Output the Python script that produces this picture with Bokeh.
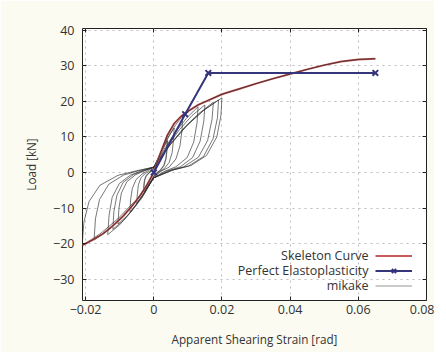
from bokeh.plotting import figure
from bokeh.models import (Range1d, LinearAxis, FixedTicker, Legend, LegendItem, Label)
from bokeh.embed import file_html
from bokeh.resources import INLINE

# ---------------- data ----------------
x_ticks = [-0.02, 0, 0.02, 0.04, 0.06, 0.08]
y_ticks = [-30, -20, -10, 0, 10, 20, 30, 40]

skeleton_x = [-0.021, -0.018, -0.015, -0.012, -0.009, -0.006, -0.004, -0.002, 0.0,
              0.002, 0.004, 0.006, 0.008, 0.010, 0.013, 0.016, 0.020, 0.025, 0.030,
              0.035, 0.040, 0.045, 0.050, 0.055, 0.060, 0.065]
skeleton_y = [-20.5, -19.0, -17.3, -15.0, -12.3, -9.0, -6.5, -3.5, 0.0,
              5.5, 10.5, 13.8, 15.8, 17.2, 19.0, 20.3, 22.0, 23.5, 25.0,
              26.4, 27.7, 29.0, 30.2, 31.2, 31.8, 32.0]

elasto_x = [0.0, 0.0092, 0.016, 0.065]
elasto_y = [0.0, 16.4, 28.0, 28.0]

# hysteresis loops ("mikake")
loopA_x = [0, 0.001, 0.002, 0.003, 0.004, 0.0039, 0.0036, 0.003, 0.002, 0.001, 0,
           -0.00075, -0.0015, -0.00225, -0.003, -0.0029, -0.0027, -0.00225, -0.0015, -0.00075, 0]
loopA_y = [1.0, 3.2, 5.4, 7.3, 9.0, 6.8, 4.0, 2.0, 0.7, 0.0, -1.0,
           -2.4, -3.6, -4.7, -5.5, -3.9, -2.2, -1.0, -0.2, 0.4, 1.0]

loopF_x = [0, 0.0015, 0.003, 0.0045, 0.006, 0.0058, 0.0054, 0.0045, 0.003, 0.0015, 0,
           -0.00125, -0.0025, -0.00375, -0.005, -0.0048, -0.0045, -0.0037, -0.0025, -0.0012, 0]
loopF_y = [1.2, 4.5, 7.6, 10.3, 12.5, 9.2, 5.6, 2.8, 1.0, 0.1, -1.2,
           -3.3, -5.6, -7.3, -8.5, -6.0, -3.4, -1.4, -0.3, 0.4, 1.2]

loopB_x = [0, 0.002, 0.004, 0.006, 0.0085, 0.0083, 0.0077, 0.0065, 0.0045, 0.002, 0,
           -0.0018, -0.0035, -0.0053, -0.007, -0.0068, -0.0063, -0.0052, -0.0035, -0.0018, 0]
loopB_y = [1.5, 5.5, 9.5, 12.8, 16.0, 12.0, 7.5, 3.8, 1.5, 0.3, -1.5,
           -4.3, -7.2, -9.4, -11.0, -7.8, -4.5, -2.0, -0.5, 0.5, 1.5]

loopC_x = [0, 0.003, 0.0065, 0.0098, 0.013, 0.0127, 0.0117, 0.0098, 0.0065, 0.0033, 0,
           -0.0026, -0.0053, -0.0079, -0.0105, -0.0102, -0.0095, -0.0079, -0.0053, -0.0026, 0]
loopC_y = [1.5, 6.5, 11.5, 15.5, 18.5, 14.0, 8.5, 4.2, 1.6, 0.4, -1.5,
           -5.5, -9.3, -12.3, -14.5, -10.0, -5.8, -2.6, -0.6, 0.5, 1.5]

loopG_x = [0, 0.0037, 0.0075, 0.0112, 0.015, 0.0147, 0.0136, 0.0114, 0.0078, 0.0038, 0,
           -0.003, -0.006, -0.009, -0.012, -0.0117, -0.0108, -0.009, -0.006, -0.003, 0]
loopG_y = [1.5, 7.0, 12.0, 16.0, 19.0, 14.5, 8.8, 4.2, 1.6, 0.4, -1.5,
           -6.0, -10.3, -13.6, -16.0, -11.0, -6.4, -2.8, -0.6, 0.5, 1.5]

loopD_x = [0, 0.0044, 0.0088, 0.0131, 0.0175, 0.0171, 0.0158, 0.0131, 0.0088, 0.0044, 0,
           -0.0034, -0.0068, -0.0101, -0.0135, -0.0131, -0.0122, -0.0101, -0.0068, -0.0034, 0]
loopD_y = [1.5, 7.5, 12.5, 16.5, 19.8, 15.0, 9.0, 4.3, 1.6, 0.4, -1.5,
           -6.5, -11.2, -14.8, -17.5, -12.0, -7.0, -3.1, -0.7, 0.5, 1.5]

loopH_x = [0, 0.0048, 0.0095, 0.0143, 0.019, 0.0187, 0.0174, 0.0146, 0.0102, 0.0052, 0,
           -0.0044, -0.0088, -0.0132, -0.0175, -0.0171, -0.0159, -0.0132, -0.0088, -0.0044, 0]
loopH_y = [1.5, 7.8, 13.0, 17.2, 20.4, 15.5, 9.5, 4.5, 1.8, 0.6, -1.5,
           -7.0, -12.2, -16.2, -19.0, -13.0, -7.6, -3.3, -0.7, 0.5, 1.5]

loopE_x = [0, 0.005, 0.010, 0.015, 0.020, 0.0197, 0.0185, 0.0155, 0.011, 0.006, 0,
           -0.005, -0.0105, -0.0158, -0.021, -0.0205, -0.019, -0.0158, -0.0105, -0.005, 0]
loopE_y = [1.5, 8.0, 13.5, 17.8, 21.0, 16.0, 10.0, 4.8, 2.0, 0.8, -1.5,
           -7.5, -13.0, -17.3, -20.5, -14.0, -8.2, -3.6, -0.8, 0.5, 1.5]

loops_x = [loopA_x, loopF_x, loopB_x, loopC_x, loopG_x, loopD_x, loopH_x, loopE_x]
loops_y = [loopA_y, loopF_y, loopB_y, loopC_y, loopG_y, loopD_y, loopH_y, loopE_y]

legend_labels = ["Skeleton Curve", "Perfect Elastoplasticity", "mikake"]

FONT = "Open Sans"

# ---------------- figure ----------------
p = figure(frame_width=344, frame_height=272,
           x_range=Range1d(-0.0209, 0.08), y_range=Range1d(-36, 40.5),
           output_backend="svg", toolbar_location=None,
           min_border_left=82, min_border_right=8, min_border_top=28, min_border_bottom=52)
p.background_fill_color = "white"
p.border_fill_color = "#fcfbf2"
p.outline_line_color = "#222222"
p.outline_line_width = 1

for ax in (p.xaxis[0], p.yaxis[0]):
    ax.axis_line_color = None
    ax.major_tick_in = 4
    ax.major_tick_out = 0
    ax.minor_tick_line_color = None
    ax.major_tick_line_color = "#222222"
    ax.major_label_text_font = FONT
    ax.major_label_text_font_size = "12.5px"
    ax.major_label_text_color = "#333333"
    ax.axis_label_text_font = FONT
    ax.axis_label_text_font_size = "11.7px"
    ax.axis_label_text_font_style = "normal"
    ax.axis_label_text_color = "#333333"

p.xaxis[0].ticker = FixedTicker(ticks=x_ticks)
p.yaxis[0].ticker = FixedTicker(ticks=y_ticks)
p.xaxis[0].axis_label = "Apparent Shearing Strain [rad]"
p.yaxis[0].axis_label = "Load [kN]"
p.xaxis[0].major_label_standoff = 4
p.xaxis[0].axis_label_standoff = 14
p.yaxis[0].major_label_standoff = 8
p.yaxis[0].axis_label_standoff = 11

# mirrored ticks (no labels)
rax = LinearAxis(ticker=FixedTicker(ticks=y_ticks),
                 major_label_overrides={t: "" for t in y_ticks},
                 axis_line_color=None, major_tick_in=4, major_tick_out=0,
                 minor_tick_line_color=None, major_tick_line_color="#222222",
                 major_label_standoff=0)
tax = LinearAxis(ticker=FixedTicker(ticks=x_ticks),
                 major_label_overrides={t: "" for t in x_ticks},
                 axis_line_color=None, major_tick_in=4, major_tick_out=0,
                 minor_tick_line_color=None, major_tick_line_color="#222222",
                 major_label_standoff=0)
p.add_layout(rax, "right")
p.add_layout(tax, "above")

p.xgrid.ticker = FixedTicker(ticks=x_ticks)
p.ygrid.ticker = FixedTicker(ticks=y_ticks)
for g in (p.xgrid[0], p.ygrid[0]):
    g.grid_line_color = "#bcbcbc"
    g.grid_line_dash = "dotted"
    g.grid_line_width = 1

# ---------------- glyphs ----------------
mikake_key = p.line(loopA_x, loopA_y, line_color="#b8b8b8", line_width=1.5)
for lx, ly in zip(loops_x, loops_y):
    p.line(lx, ly, line_color="#2e2e2e", line_width=1, line_alpha=0.65)

sk = p.line(skeleton_x, skeleton_y, line_color="#c85a5a", line_width=2)
p.line(skeleton_x, skeleton_y, line_color="#2a2020", line_width=1, line_alpha=0.75)

el = p.line(elasto_x, elasto_y, line_color="#34357a", line_width=2)
em = p.scatter(elasto_x, elasto_y, marker="x", size=8, line_color="#34357a", line_width=2)

legend = Legend(items=[LegendItem(label="", renderers=[sk]),
                       LegendItem(label="", renderers=[el, em]),
                       LegendItem(label="", renderers=[mikake_key])],
                location=(293, 7), orientation="vertical",
                glyph_width=37, glyph_height=15, label_height=15, label_width=0,
                label_standoff=0, padding=0, margin=0, spacing=0,
                border_line_color=None, background_fill_alpha=0)
p.add_layout(legend)

for i, t in enumerate(legend_labels):
    p.add_layout(Label(x=286, y=7.5 + 37.5 - 15 * i, x_units="screen", y_units="screen",
                       text=t, text_align="right", text_baseline="middle",
                       text_font=FONT, text_font_size="12.5px", text_color="#333333"))

open("out.html", "w").write(file_html(p, INLINE))
